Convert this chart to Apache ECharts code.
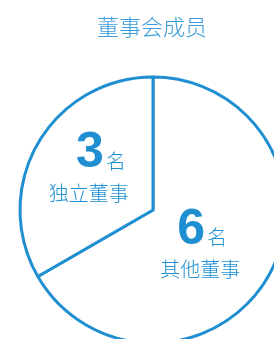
<!DOCTYPE html>
<html>
<head>
<meta charset="utf-8">
<style>
  html, body { margin: 0; padding: 0; background: #fff; }
  #main { width: 274px; height: 339px; }
</style>
<script src="https://cdn.jsdelivr.net/npm/echarts@6/dist/echarts.min.js"></script>
</head>
<body>
<div id="main"></div>
<script>
const titleText = "董事会成员";
const categories = ["其他董事", "独立董事"];
const counts = [6, 3];
const unit = "名";

const blue = "#1f8fd1";
const cjk = "'Noto Sans CJK SC', 'Noto Sans', sans-serif";

// per-slice label nudges (3-slice number sits right of its name line)
const labelTweaks = [
  { offset: [-13, -1], numPad: [0, 0, 0, 4] },
  { offset: [-4, -8], numPad: [0, 0, 0, 24] }
];

const chart = echarts.init(document.getElementById("main"));

const pieData = categories.map((name, i) => ({
  name: name,
  value: counts[i],
  label: {
    offset: labelTweaks[i].offset,
    rich: {
      num: {
        fontFamily: "'Liberation Sans', Arial, sans-serif",
        fontWeight: "bold",
        fontSize: 50,
        lineHeight: 52,
        color: blue,
        padding: labelTweaks[i].numPad
      }
    }
  }
}));

const option = {
  backgroundColor: "#fff",
  animation: false,
  title: {
    text: titleText,
    left: 92,
    top: 11,
    textStyle: {
      fontFamily: cjk,
      fontWeight: 300,
      fontSize: 22,
      color: "#3a9cdb"
    }
  },
  series: [
    {
      type: "pie",
      center: [153, 210],
      radius: [0, 133],
      startAngle: 90,
      clockwise: true,
      silent: true,
      itemStyle: {
        color: "#fff",
        borderColor: blue,
        borderWidth: 3
      },
      label: {
        show: true,
        position: "inside",
        formatter: (p) => "{num|" + p.value + "}{unit|" + unit + "}\n{name|" + p.name + "}",
        rich: {
          unit: {
            fontFamily: cjk,
            fontWeight: 300,
            fontSize: 20,
            color: blue,
            verticalAlign: "bottom",
            lineHeight: 20,
            padding: [0, 0, 8, 2]
          },
          name: {
            fontFamily: cjk,
            fontWeight: 300,
            fontSize: 20,
            lineHeight: 28,
            color: blue
          }
        }
      },
      labelLine: { show: false },
      emphasis: { disabled: true },
      data: pieData
    }
  ]
};

chart.setOption(option);
window.addEventListener("resize", () => {
  chart.resize();
});
</script>
</body>
</html>
